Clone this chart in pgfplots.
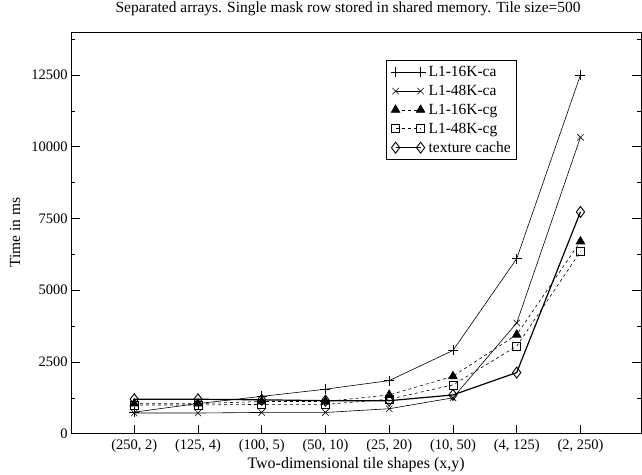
\documentclass[border=0pt]{standalone}
\usepackage{pgfplots}
\pgfplotsset{compat=1.18}
\usepackage{fontspec}
\setmainfont{Liberation Serif}

\begin{document}
\begin{tikzpicture}
\begin{axis}[
    name=ax,
    scale only axis,
    width=569bp, height=401bp,
    font=\fontsize{14.5}{16}\selectfont,
    /pgf/number format/assume math mode=true,
    /pgf/number format/1000 sep={},
    scaled y ticks=false,
    title={Separated arrays. Single mask row stored in shared memory. Tile size=500},
    title style={at={(0.486,1)}, anchor=base, yshift=14bp, font=\fontsize{15.5}{18}\selectfont},
    xlabel={Two-dimensional tile shapes (x,y)},
    xlabel style={at={(0.5,0)}, anchor=base, yshift=-35bp, font=\fontsize{16}{18}\selectfont},
    ylabel={Time in ms},
    ylabel style={at={(0,0.5)}, anchor=center, yshift=56bp, font=\fontsize{15.5}{18}\selectfont},
    xmin=-0.99, xmax=7.95,
    ymin=0, ymax=14000,
    xtick={0,1,2,3,4,5,6,7},
    xticklabels={{(250, 2)},{(125, 4)},{(100, 5)},{(50, 10)},{(25, 20)},{(10, 50)},{(4, 125)},{(2, 250)}},
    ytick={0,2500,5000,7500,10000,12500},
    minor ytick={1250,3750,6250,8750,11250,13750},
    xtick pos=bottom,
    ytick pos=both,
    tick align=inside,
    major tick length=9bp,
    minor tick length=4bp,
    tick style={black, line width=0.6bp},
    axis line style={line width=0.9bp},
    xticklabel style={yshift=-2bp},
    every axis plot/.append style={line width=0.6bp},
    legend style={
        at={(0.553,0.930)}, anchor=north west,
        draw=black, line width=0.6bp,
        font=\fontsize{15.5}{17}\selectfont,
        nodes={inner sep=2bp},
        inner xsep=4bp, inner ysep=4bp,
        row sep=3bp,
        /tikz/every odd column/.append style={column sep=1bp},
    },
    legend cell align=left,
    legend image code/.code={
        \draw[#1] plot coordinates {(0bp,0bp) (25bp,0bp)};
    },
]

% L1-16K-ca
\addplot[black, mark=+, mark size=5bp] coordinates {
(0,750) (1,1050) (2,1300) (3,1550) (4,1850) (5,2900) (6,6100) (7,12500)
};
\addlegendentry{L1-16K-ca}

% L1-48K-ca
\addplot[black, mark=x, mark size=4.5bp] coordinates {
(0,720) (1,720) (2,740) (3,740) (4,870) (5,1250) (6,3860) (7,10330)
};
\addlegendentry{L1-48K-ca}

% L1-16K-cg
\addplot[black, dashed, mark=triangle*, mark size=5bp, mark options={solid, fill=black}] coordinates {
(0,1050) (1,1050) (2,1120) (3,1120) (4,1350) (5,2000) (6,3450) (7,6700)
};
\addlegendentry{L1-16K-cg}

% L1-48K-cg
\addplot[black, dashed, mark=square, mark size=4bp, mark options={solid, fill=white}] coordinates {
(0,1000) (1,1000) (2,1020) (3,1020) (4,1200) (5,1700) (6,3050) (7,6350)
};
\addlegendentry{L1-48K-cg}

% texture cache
\addplot[black, line width=1.2bp, mark=diamond, mark size=5.5bp, mark options={solid, fill=white, line width=0.9bp}] coordinates {
(0,1200) (1,1200) (2,1180) (3,1150) (4,1150) (5,1350) (6,2130) (7,7730)
};
\addlegendentry{texture cache}

\end{axis}
% page margins as in the reference
\pgfresetboundingbox
\path ([shift={(-71bp,-41bp)}]ax.south west) rectangle ([shift={(1bp,32bp)}]ax.north east);
\end{tikzpicture}
\end{document}
